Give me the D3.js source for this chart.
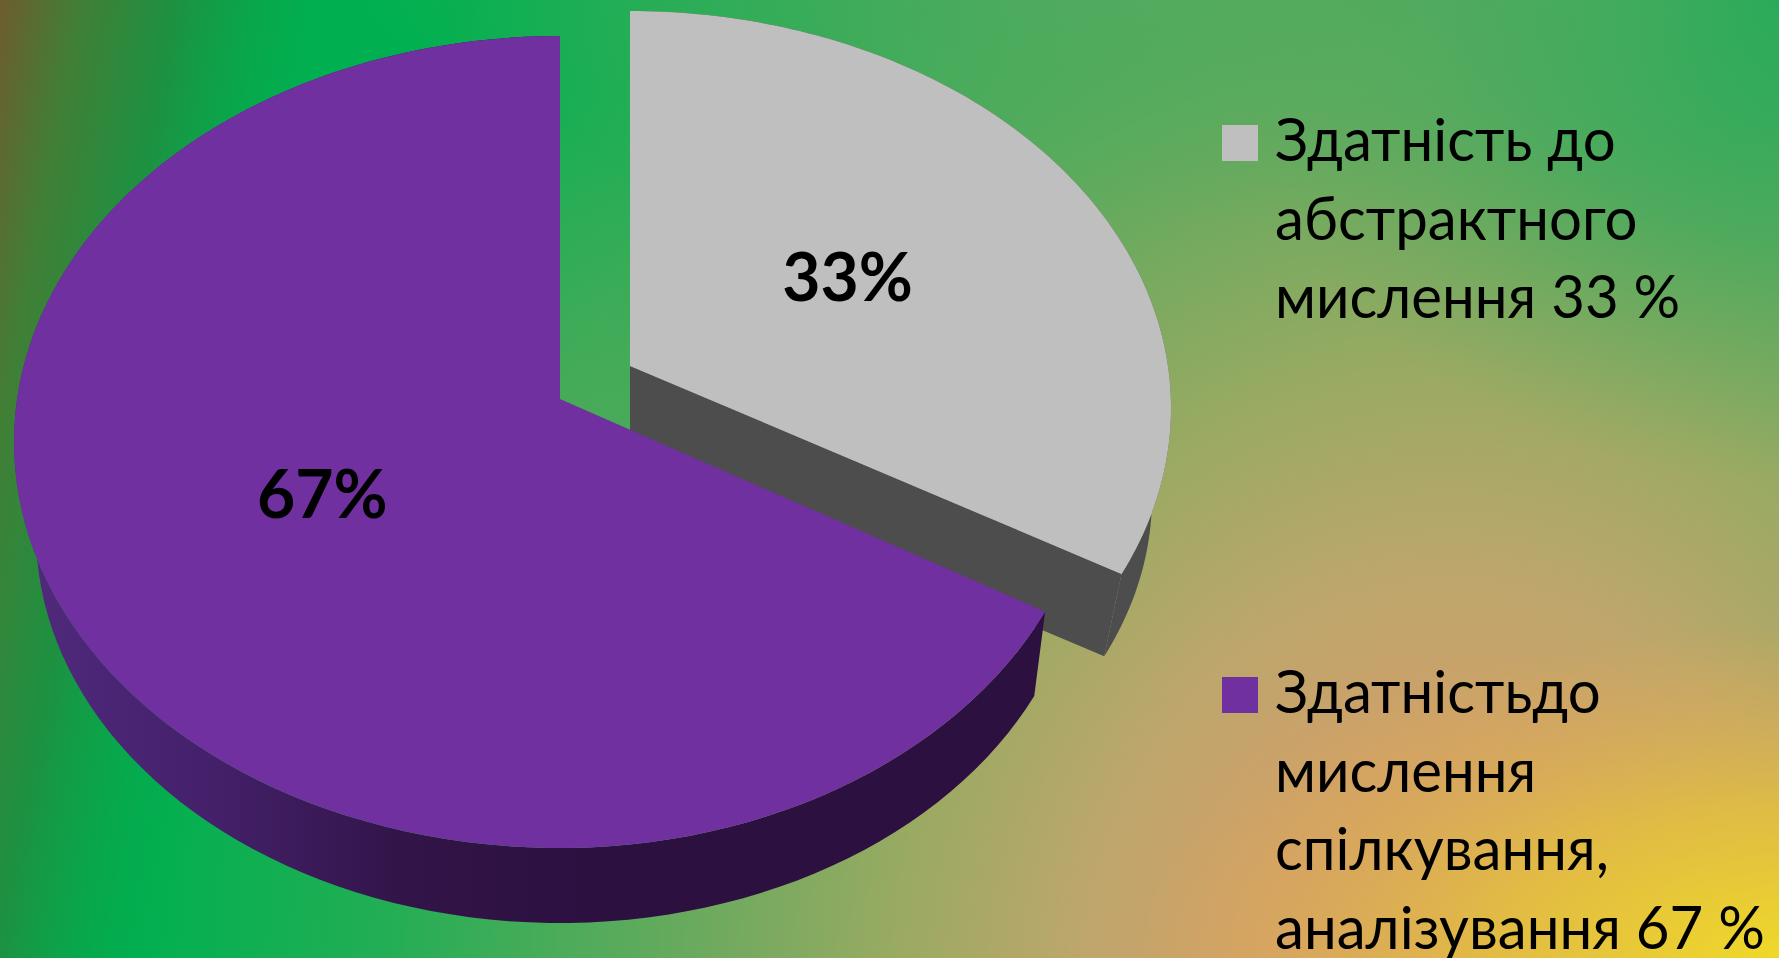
<!DOCTYPE html>
<html>
<head>
<meta charset="utf-8">
<script src="https://cdn.jsdelivr.net/npm/d3@7"></script>
<style>
  html, body { margin: 0; padding: 0; overflow: hidden; background: #00b050; }
  svg { display: block; }
  text { font-family: Lato, "Noto Sans", sans-serif; fill: #000; }
</style>
</head>
<body>
<div id="chart"></div>
<script>
// chart data
var shares = [33, 67];
var colors = ['#bfbfbf', '#7030a0'];
var shareLabels = ['33%', '67%'];
var legendLines = [
  ['Здатність до', 'абстрактного', 'мислення 33 %'],
  ['Здатністьдо', 'мислення', 'спілкування,', 'аналізування 67 %']
];

var width = 1779;
var height = 958;

var svg = d3.select('#chart').append('svg')
  .attr('width', width)
  .attr('height', height);

var defs = svg.append('defs');

function radial(id, cx, cy, rx, ry, stops) {
  var g = defs.append('radialGradient')
    .attr('id', id)
    .attr('gradientUnits', 'userSpaceOnUse')
    .attr('cx', 0).attr('cy', 0).attr('r', 1)
    .attr('gradientTransform', 'translate(' + cx + ',' + cy + ') scale(' + rx + ',' + ry + ')');
  addStops(g, stops);
}

function addStops(g, stops) {
  g.selectAll('stop').data(stops).enter().append('stop')
    .attr('offset', function(d) { return d[0]; })
    .attr('stop-color', function(d) { return d[1]; })
    .attr('stop-opacity', function(d) { return d[2] === undefined ? 1 : d[2]; });
}

// background is a few gradients stacked
radial('bgMain', 1450, 1000, 1320, 1500, [
  [0, '#d8a062'], [0.15, '#d29f68'], [0.28, '#bea66c'], [0.42, '#9aaa62'], [0.58, '#68aa5e'], [0.81, '#22ae54'], [1, '#00b050']
]);
radial('bgYellow', 1779, 958, 640, 330, [
  [0, '#f0d928', 1], [0.45, '#e4c03e', 0.85], [0.8, '#dcae54', 0.4], [1, '#dcae54', 0]
]);
radial('bgCorner', 1779, 0, 560, 480, [
  [0, '#1fab58', 0.95], [0.5, '#3aaa5c', 0.6], [1, '#5aaa60', 0]
]);
radial('bgTop', 1150, -40, 800, 260, [
  [0, '#58aa60', 0.85], [1, '#58aa60', 0]
]);
radial('bgGap', 590, 430, 260, 340, [
  [0, '#4caa5a', 0.9], [1, '#4caa5a', 0]
]);

var bgLeft = defs.append('linearGradient')
  .attr('id', 'bgLeft')
  .attr('gradientUnits', 'userSpaceOnUse')
  .attr('x1', 0).attr('y1', 0).attr('x2', 345).attr('y2', 65);
addStops(bgLeft, [[0, '#6e5c2e', 1], [0.22, '#427e36', 1], [0.5, '#1e9040', 0.95], [1, '#00b050', 0]]);

['bgMain', 'bgYellow', 'bgCorner', 'bgTop', 'bgGap', 'bgLeft'].forEach(function(id) {
  svg.append('rect')
    .attr('width', width)
    .attr('height', height)
    .attr('fill', 'url(#' + id + ')');
});

var wallGrad = defs.append('linearGradient')
  .attr('id', 'wallGrad')
  .attr('gradientUnits', 'userSpaceOnUse')
  .attr('x1', 30).attr('y1', 0).attr('x2', 600).attr('y2', 0);
addStops(wallGrad, [[0, '#50297c'], [0.3, '#45216c'], [0.65, '#331449'], [1, '#2c1040']]);

var pieData = d3.pie().sort(null)(shares);

// the tilted disc: unit circle -> ellipse, centre pushed back more than the rim
function project(box, angle, r) {
  var tilt = -0.106 + 0.026 * r;
  var x = Math.sin(angle) * r;
  var y = -Math.cos(angle) * r;
  var w = 1 + tilt * y;
  var rx = x > 0 ? (box.rxRight || box.rx) : box.rx;
  return [
    box.cx + rx * x * Math.sqrt(1 - tilt * tilt) / w,
    box.cy + box.ry * (y + tilt) / w
  ];
}

function rim(box, a0, a1) {
  return d3.range(0, 121).map(function(i) {
    return project(box, a0 + (a1 - a0) * i / 120, 1);
  });
}

var slices = [
  { top: { cx: 630, cy: 408, rx: 541, ry: 397 }, bottom: { cx: 630, cy: 497, rx: 522, ry: 381 }, wall: '#4d4d4d', labelDx: -9, labelDy: 28 },
  { top: { cx: 560, cy: 442, rx: 546, rxRight: 534, ry: 406 }, bottom: { cx: 560, cy: 533, rx: 524, rxRight: 522, ry: 390 }, wall: 'url(#wallGrad)', labelDx: 2, labelDy: 9 }
];

var line = d3.line();

slices.forEach(function(s, i) {
  var d = pieData[i];
  var apexTop = project(s.top, 0, 0);
  var apexBottom = project(s.bottom, 0, 0);

  // side wall, drawn first so the top face covers it
  var wallPts = rim(s.top, d.startAngle, d.endAngle)
    .concat(rim(s.bottom, d.startAngle, d.endAngle).reverse());
  svg.append('path')
    .attr('d', line(wallPts) + 'Z')
    .attr('fill', s.wall);

  // cut face of the pulled out slice
  if (i === 0) {
    var endTop = project(s.top, d.endAngle, 1);
    var endBottom = project(s.bottom, d.endAngle, 1);
    svg.append('path')
      .attr('d', line([apexTop, endTop, endBottom, apexBottom]) + 'Z')
      .attr('fill', s.wall);
  }

  svg.append('path')
    .attr('d', line([apexTop].concat(rim(s.top, d.startAngle, d.endAngle))) + 'Z')
    .attr('fill', colors[i]);
});

// value labels
slices.forEach(function(s, i) {
  var d = pieData[i];
  var c = project(s.top, (d.startAngle + d.endAngle) / 2, 0.5);
  svg.append('text')
    .attr('x', c[0] + s.labelDx)
    .attr('y', c[1] + s.labelDy)
    .attr('text-anchor', 'middle')
    .style('font-size', '66px')
    .style('font-weight', 700)
    .text(shareLabels[i]);
});

// legend
var legendTop = [125, 677];
var lineHeight = 78.5;

legendLines.forEach(function(lines, i) {
  svg.append('rect')
    .attr('x', 1222)
    .attr('y', legendTop[i])
    .attr('width', 36)
    .attr('height', 36)
    .attr('fill', colors[i]);

  // Lato runs a little wider than the original face, so squeeze it
  svg.selectAll('.legend' + i)
    .data(lines)
    .enter()
    .append('text')
    .attr('class', 'legend' + i)
    .attr('transform', function(d, j) {
      return 'translate(1275,' + (legendTop[i] + 36 + j * lineHeight) + ') scale(0.97,1)';
    })
    .style('font-size', '60px')
    .text(function(d) { return d; });
});
</script>
</body>
</html>
